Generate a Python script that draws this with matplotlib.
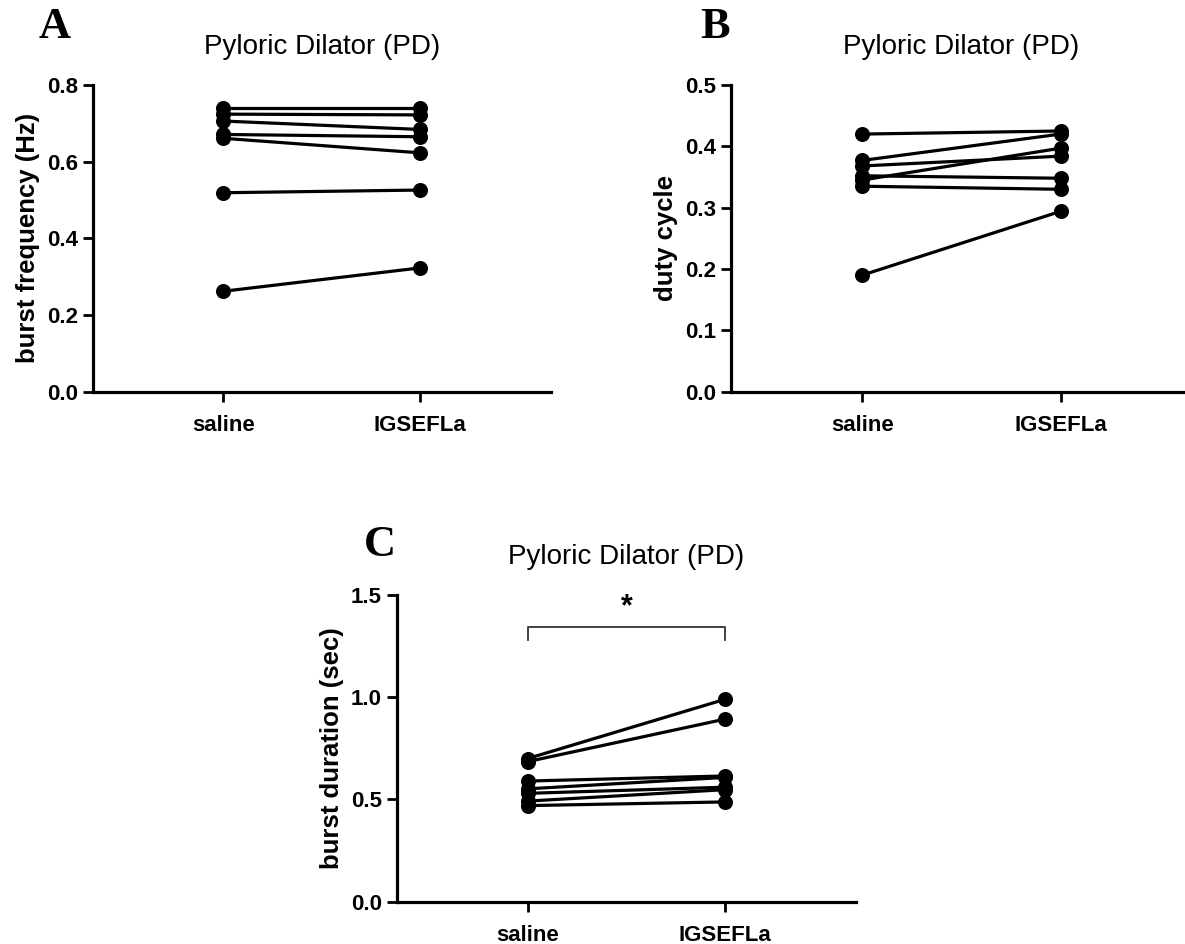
import matplotlib
matplotlib.use("Agg")
import matplotlib.pyplot as plt

plt.rcParams['font.family'] = ['Liberation Sans', 'DejaVu Sans']

categories = ["saline", "IGSEFLa"]

# Panel A: burst frequency (Hz)
freq_saline = [0.740, 0.724, 0.706, 0.671, 0.661, 0.519, 0.262]
freq_igsefla = [0.740, 0.722, 0.684, 0.665, 0.623, 0.526, 0.323]

# Panel B: duty cycle
duty_saline = [0.420, 0.377, 0.368, 0.345, 0.352, 0.335, 0.190]
duty_igsefla = [0.425, 0.420, 0.384, 0.397, 0.348, 0.330, 0.294]

# Panel C: burst duration (sec)
dur_saline = [0.700, 0.685, 0.590, 0.552, 0.530, 0.492, 0.470]
dur_igsefla = [0.990, 0.893, 0.615, 0.608, 0.560, 0.548, 0.488]

titles = ["Pyloric Dilator (PD)"] * 3
ylabels = ["burst frequency (Hz)", "duty cycle", "burst duration (sec)"]
yticks_A = [0.0, 0.2, 0.4, 0.6, 0.8]
yticks_B = [0.0, 0.1, 0.2, 0.3, 0.4, 0.5]
yticks_C = [0.0, 0.5, 1.0, 1.5]

W, H = 1185, 944
fig = plt.figure(figsize=(W / 100, H / 100), dpi=100)

def px_axes(left, right, top, bottom):
    return fig.add_axes([left / W, 1 - bottom / H, (right - left) / W, (bottom - top) / H])

axA = px_axes(92.7, 551, 85, 391.7)
axB = px_axes(730.7, 1192, 85, 391.7)
axC = px_axes(396.7, 856, 595, 901.7)

panels = [
    (axA, freq_saline, freq_igsefla, yticks_A, "{:.1f}"),
    (axB, duty_saline, duty_igsefla, yticks_B, "{:.1f}"),
    (axC, dur_saline, dur_igsefla, yticks_C, "{:.1f}"),
]

for i, (ax, s, g, yt, fmt) in enumerate(panels):
    for a, b in zip(s, g):
        ax.plot([0, 1], [a, b], color='black', lw=2.3, marker='o', ms=9.8,
                markerfacecolor='black', markeredgecolor='black', solid_capstyle='round',
                clip_on=False, zorder=3)
    ax.set_xlim(-0.663, 1.663)
    ax.set_ylim(yt[0], yt[-1])
    ax.set_yticks(yt)
    ax.set_yticklabels([fmt.format(v) for v in yt])
    ax.set_xticks([0, 1])
    ax.set_xticklabels(categories)
    for sp in ['top', 'right']:
        ax.spines[sp].set_visible(False)
    for sp in ['left', 'bottom']:
        ax.spines[sp].set_linewidth(2.3)
        ax.spines[sp].set_color('black')
    ax.tick_params(axis='both', direction='out', length=7.5, width=2.0, colors='black',
                   labelsize=16)
    ax.tick_params(axis='x', pad=9)
    ax.tick_params(axis='y', pad=3)
    for lab in ax.get_xticklabels() + ax.get_yticklabels():
        lab.set_fontweight('bold')
    ax.set_ylabel(ylabels[i], fontsize=18.5, fontweight='bold', labelpad=5)
    ax.set_title(titles[i], fontsize=20, pad=22)
    ax.patch.set_alpha(0)

# significance bracket on panel C
br_top, br_bot = 1.345, 1.28
axC.plot([0, 0, 1, 1], [br_bot, br_top, br_top, br_bot], color='#333333', lw=1.3,
         clip_on=False)
axC.text(0.5, br_top + 0.02, "*", ha='center', va='bottom', fontsize=22,
         fontweight='bold')

# panel letters
fig.text(55 / W, 1 - 27 / H, "A", fontsize=32, fontweight='bold',
         family='Liberation Serif', ha='center', va='center')
fig.text(715 / W, 1 - 27 / H, "B", fontsize=32, fontweight='bold',
         family='Liberation Serif', ha='center', va='center')
fig.text(380 / W, 1 - 545 / H, "C", fontsize=32, fontweight='bold',
         family='Liberation Serif', ha='center', va='center')

fig.savefig("out.png", dpi=100)
